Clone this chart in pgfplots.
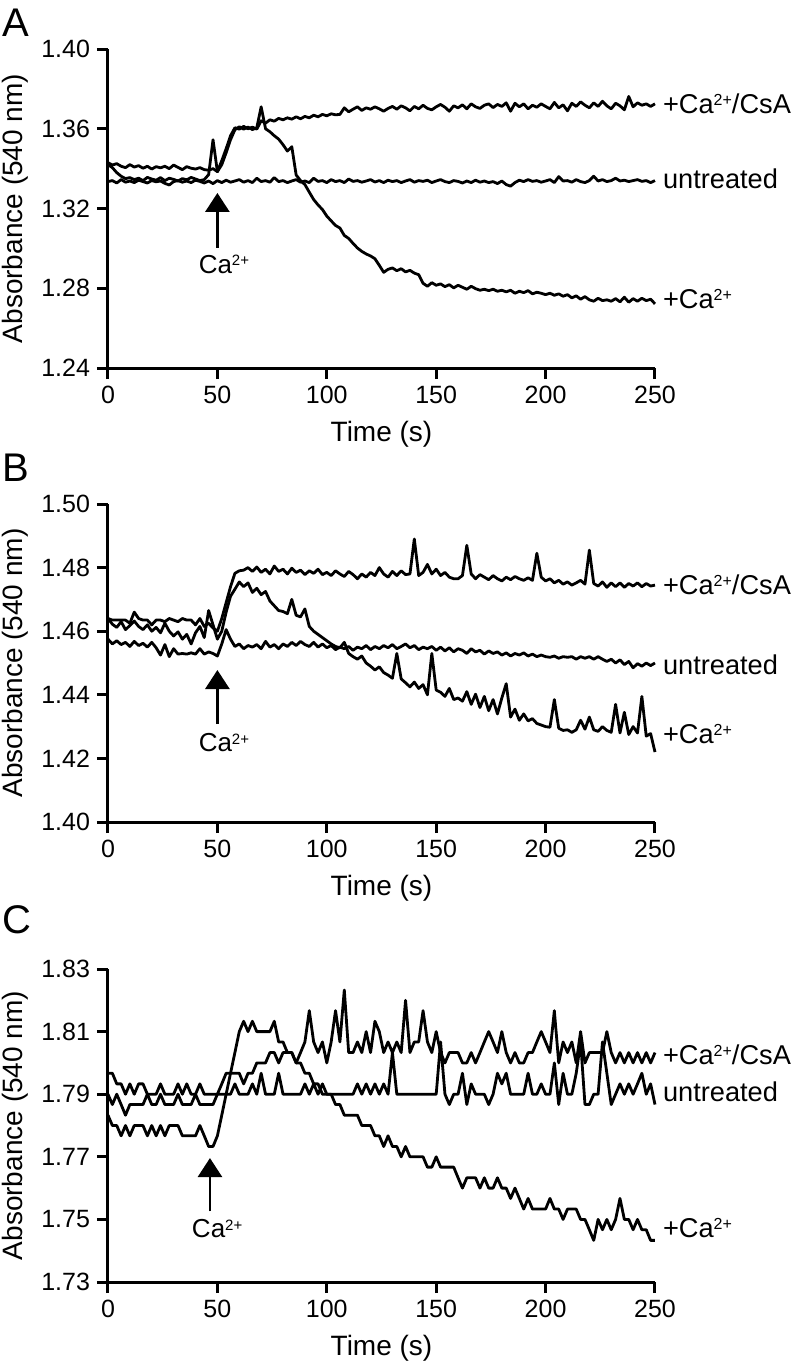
\documentclass[border=0pt]{standalone}
\usepackage{pgfplots}
\pgfplotsset{compat=1.18}
\usepackage{pgfplotstable}
\usepackage{fontspec}
\setmainfont{Liberation Sans}
\usetikzlibrary{arrows.meta}
\newcommand\supl[1]{\raisebox{4.1pt}{\fontsize{8}{8}\selectfont #1}}
\newcommand\sups[1]{\raisebox{3.8pt}{\fontsize{7.5}{8}\selectfont #1}}

\pgfplotstableread{
t csa unt ca
0 1.3430 1.3335 1.3420
2 1.3418 1.3340 1.3405
4 1.3425 1.3328 1.3380
6 1.3412 1.3345 1.3362
8 1.3405 1.3332 1.3350
10 1.3420 1.3338 1.3355
12 1.3408 1.3330 1.3345
14 1.3415 1.3342 1.3352
16 1.3402 1.3335 1.3340
18 1.3412 1.3328 1.3356
20 1.3398 1.3340 1.3348
22 1.3410 1.3334 1.3342
24 1.3404 1.3338 1.3355
26 1.3412 1.3326 1.3340
28 1.3400 1.3318 1.3352
30 1.3418 1.3335 1.3346
32 1.3406 1.3340 1.3338
34 1.3395 1.3332 1.3350
36 1.3410 1.3338 1.3344
38 1.3402 1.3330 1.3356
40 1.3398 1.3342 1.3348
42 1.3405 1.3336 1.3340
44 1.3395 1.3328 1.3345
46 1.3392 1.3338 1.3370
48 1.3400 1.3325 1.3545
50 1.3385 1.3340 1.3385
52 1.3440 1.3330 1.3420
54 1.3500 1.3342 1.3480
56 1.3565 1.3332 1.3545
58 1.3605 1.3338 1.3595
60 1.3598 1.3345 1.3610
62 1.3612 1.3332 1.3598
64 1.3600 1.3340 1.3608
66 1.3608 1.3330 1.3596
68 1.3598 1.3352 1.3605
70 1.3640 1.3335 1.3710
72 1.3628 1.3340 1.3600
74 1.3645 1.3332 1.3585
76 1.3638 1.3355 1.3565
78 1.3652 1.3335 1.3548
80 1.3645 1.3340 1.3520
82 1.3655 1.3330 1.3488
84 1.3648 1.3338 1.3510
86 1.3660 1.3345 1.3368
88 1.3650 1.3332 1.3340
90 1.3662 1.3338 1.3320
92 1.3655 1.3330 1.3282
94 1.3668 1.3352 1.3245
96 1.3660 1.3336 1.3218
98 1.3672 1.3340 1.3195
100 1.3665 1.3330 1.3162
102 1.3675 1.3345 1.3138
104 1.3670 1.3335 1.3115
106 1.3672 1.3340 1.3102
108 1.3705 1.3330 1.3065
110 1.3685 1.3348 1.3050
112 1.3698 1.3336 1.3025
114 1.3710 1.3340 1.3002
116 1.3692 1.3332 1.2985
118 1.3705 1.3338 1.2972
120 1.3698 1.3345 1.2962
122 1.3710 1.3333 1.2948
124 1.3700 1.3340 1.2915
126 1.3688 1.3330 1.2880
128 1.3702 1.3342 1.2895
130 1.3712 1.3335 1.2902
132 1.3698 1.3340 1.2888
134 1.3715 1.3330 1.2898
136 1.3705 1.3338 1.2882
138 1.3690 1.3345 1.2890
140 1.3712 1.3332 1.2876
142 1.3700 1.3340 1.2868
144 1.3718 1.3336 1.2825
146 1.3702 1.3342 1.2810
148 1.3695 1.3330 1.2828
150 1.3710 1.3338 1.2815
152 1.3722 1.3345 1.2822
154 1.3708 1.3335 1.2808
156 1.3688 1.3330 1.2818
158 1.3715 1.3340 1.2802
160 1.3705 1.3336 1.2815
162 1.3720 1.3328 1.2805
164 1.3700 1.3338 1.2795
166 1.3725 1.3330 1.2810
168 1.3710 1.3342 1.2798
170 1.3702 1.3332 1.2790
172 1.3718 1.3338 1.2795
174 1.3725 1.3330 1.2788
176 1.3706 1.3335 1.2795
178 1.3722 1.3325 1.2785
180 1.3712 1.3338 1.2790
182 1.3730 1.3320 1.2782
184 1.3688 1.3312 1.2790
186 1.3728 1.3330 1.2775
188 1.3710 1.3342 1.2785
190 1.3725 1.3335 1.2778
192 1.3700 1.3345 1.2788
194 1.3718 1.3336 1.2772
196 1.3708 1.3340 1.2780
198 1.3725 1.3332 1.2775
200 1.3712 1.3338 1.2768
202 1.3700 1.3345 1.2775
204 1.3732 1.3330 1.2765
206 1.3705 1.3360 1.2772
208 1.3720 1.3338 1.2760
210 1.3690 1.3340 1.2768
212 1.3728 1.3332 1.2752
214 1.3712 1.3345 1.2762
216 1.3735 1.3335 1.2745
218 1.3718 1.3330 1.2758
220 1.3705 1.3340 1.2742
222 1.3730 1.3362 1.2735
224 1.3712 1.3338 1.2750
226 1.3738 1.3345 1.2738
228 1.3715 1.3335 1.2742
230 1.3700 1.3340 1.2735
232 1.3728 1.3352 1.2748
234 1.3715 1.3338 1.2732
236 1.3695 1.3342 1.2755
238 1.3762 1.3335 1.2730
240 1.3710 1.3340 1.2748
242 1.3730 1.3345 1.2735
244 1.3718 1.3336 1.2750
246 1.3725 1.3340 1.2738
248 1.3712 1.3330 1.2745
250 1.3725 1.3340 1.2722
}\dataA

\pgfplotstableread{
t csa unt ca
0 1.4640 1.4575 1.4640
2 1.4635 1.4560 1.4622
4 1.4635 1.4570 1.4612
6 1.4635 1.4558 1.4630
8 1.4635 1.4565 1.4605
10 1.4625 1.4552 1.4618
12 1.4660 1.4568 1.4632
14 1.4640 1.4555 1.4615
16 1.4635 1.4562 1.4605
18 1.4635 1.4550 1.4620
20 1.4620 1.4565 1.4600
22 1.4635 1.4548 1.4612
24 1.4635 1.4525 1.4595
26 1.4630 1.4558 1.4625
28 1.4640 1.4520 1.4600
30 1.4635 1.4545 1.4585
32 1.4630 1.4528 1.4598
34 1.4640 1.4530 1.4575
36 1.4635 1.4528 1.4590
38 1.4635 1.4532 1.4560
40 1.4620 1.4528 1.4595
42 1.4640 1.4545 1.4615
44 1.4615 1.4528 1.4580
46 1.4625 1.4535 1.4665
48 1.4610 1.4530 1.4620
50 1.4600 1.4522 1.4575
52 1.4640 1.4560 1.4600
54 1.4690 1.4605 1.4660
56 1.4740 1.4575 1.4710
58 1.4782 1.4552 1.4732
60 1.4790 1.4560 1.4755
62 1.4792 1.4545 1.4740
64 1.4800 1.4555 1.4752
66 1.4788 1.4550 1.4722
68 1.4802 1.4558 1.4735
70 1.4785 1.4545 1.4715
72 1.4795 1.4568 1.4725
74 1.4780 1.4550 1.4695
76 1.4805 1.4558 1.4680
78 1.4788 1.4545 1.4665
80 1.4795 1.4560 1.4662
82 1.4780 1.4552 1.4655
84 1.4798 1.4565 1.4700
86 1.4785 1.4555 1.4650
88 1.4792 1.4568 1.4645
90 1.4778 1.4558 1.4670
92 1.4790 1.4552 1.4615
94 1.4782 1.4565 1.4600
96 1.4795 1.4550 1.4590
98 1.4778 1.4560 1.4580
100 1.4785 1.4548 1.4570
102 1.4775 1.4555 1.4560
104 1.4790 1.4542 1.4552
106 1.4780 1.4550 1.4548
108 1.4772 1.4545 1.4565
110 1.4788 1.4552 1.4530
112 1.4778 1.4540 1.4520
114 1.4765 1.4550 1.4512
116 1.4780 1.4545 1.4522
118 1.4770 1.4555 1.4500
120 1.4785 1.4542 1.4490
122 1.4775 1.4552 1.4478
124 1.4800 1.4545 1.4488
126 1.4780 1.4555 1.4470
128 1.4770 1.4548 1.4462
130 1.4788 1.4558 1.4452
132 1.4775 1.4545 1.4530
134 1.4790 1.4552 1.4450
136 1.4778 1.4560 1.4438
138 1.4780 1.4548 1.4425
140 1.4890 1.4555 1.4440
142 1.4775 1.4542 1.4420
144 1.4785 1.4550 1.4432
146 1.4810 1.4545 1.4400
148 1.4780 1.4552 1.4530
150 1.4795 1.4540 1.4415
152 1.4775 1.4550 1.4408
154 1.4785 1.4538 1.4395
156 1.4770 1.4548 1.4420
158 1.4765 1.4535 1.4385
160 1.4765 1.4545 1.4390
162 1.4775 1.4540 1.4380
164 1.4870 1.4530 1.4410
166 1.4780 1.4545 1.4370
168 1.4765 1.4535 1.4402
170 1.4778 1.4540 1.4360
172 1.4770 1.4528 1.4395
174 1.4762 1.4538 1.4350
176 1.4775 1.4530 1.4385
178 1.4765 1.4535 1.4340
180 1.4758 1.4525 1.4390
182 1.4770 1.4532 1.4435
184 1.4762 1.4522 1.4330
186 1.4772 1.4530 1.4355
188 1.4765 1.4525 1.4320
190 1.4760 1.4532 1.4340
192 1.4768 1.4522 1.4318
194 1.4760 1.4528 1.4325
196 1.4845 1.4520 1.4310
198 1.4770 1.4525 1.4305
200 1.4758 1.4520 1.4300
202 1.4765 1.4518 1.4298
204 1.4752 1.4522 1.4385
206 1.4760 1.4515 1.4295
208 1.4748 1.4520 1.4288
210 1.4755 1.4518 1.4290
212 1.4745 1.4520 1.4282
214 1.4752 1.4512 1.4290
216 1.4760 1.4520 1.4320
218 1.4748 1.4515 1.4292
220 1.4855 1.4520 1.4330
222 1.4750 1.4512 1.4290
224 1.4742 1.4520 1.4285
226 1.4755 1.4512 1.4300
228 1.4738 1.4505 1.4288
230 1.4752 1.4512 1.4282
232 1.4740 1.4500 1.4370
234 1.4752 1.4510 1.4280
236 1.4738 1.4495 1.4345
238 1.4750 1.4505 1.4275
240 1.4742 1.4485 1.4300
242 1.4752 1.4498 1.4280
244 1.4740 1.4490 1.4395
246 1.4750 1.4500 1.4270
248 1.4742 1.4492 1.4278
250 1.4745 1.4500 1.4220
}\dataB

\pgfplotstableread{
t csa unt ca
0 1.7900 1.7967 1.7833
2 1.7867 1.7967 1.7800
4 1.7900 1.7933 1.7800
6 1.7867 1.7933 1.7767
8 1.7833 1.7900 1.7800
10 1.7867 1.7933 1.7767
12 1.7867 1.7900 1.7800
14 1.7867 1.7933 1.7800
16 1.7867 1.7933 1.7800
18 1.7900 1.7900 1.7767
20 1.7867 1.7900 1.7800
22 1.7867 1.7900 1.7767
24 1.7900 1.7933 1.7800
26 1.7867 1.7900 1.7767
28 1.7867 1.7900 1.7800
30 1.7867 1.7900 1.7800
32 1.7900 1.7933 1.7800
34 1.7867 1.7900 1.7767
36 1.7867 1.7933 1.7767
38 1.7867 1.7900 1.7767
40 1.7900 1.7900 1.7767
42 1.7867 1.7933 1.7800
44 1.7867 1.7900 1.7767
46 1.7867 1.7900 1.7733
48 1.7867 1.7900 1.7733
50 1.7900 1.7900 1.7767
52 1.7933 1.7900 1.7833
54 1.7967 1.7900 1.7900
56 1.7967 1.7900 1.7967
58 1.7967 1.7933 1.8033
60 1.7967 1.7900 1.8100
62 1.7933 1.7900 1.8133
64 1.7967 1.7900 1.8100
66 1.7967 1.7933 1.8133
68 1.8000 1.7900 1.8100
70 1.8000 1.7967 1.8100
72 1.8000 1.7900 1.8100
74 1.8033 1.7900 1.8100
76 1.8033 1.7900 1.8133
78 1.8000 1.7967 1.8067
80 1.8033 1.7900 1.8067
82 1.8033 1.7900 1.8033
84 1.8033 1.7900 1.8033
86 1.8000 1.7900 1.8000
88 1.8033 1.7900 1.8000
90 1.8067 1.7933 1.7967
92 1.8167 1.7900 1.7967
94 1.8067 1.7933 1.7933
96 1.8033 1.7900 1.7933
98 1.8067 1.7933 1.7900
100 1.8000 1.7900 1.7900
102 1.8067 1.7900 1.7900
104 1.8167 1.7900 1.7867
106 1.8067 1.7900 1.7867
108 1.8233 1.7900 1.7833
110 1.8033 1.7900 1.7833
112 1.8033 1.7900 1.7833
114 1.8067 1.7933 1.7833
116 1.8033 1.7900 1.7800
118 1.8100 1.7933 1.7800
120 1.8033 1.7900 1.7800
122 1.8133 1.7933 1.7767
124 1.8100 1.7900 1.7767
126 1.8033 1.7933 1.7733
128 1.8067 1.7900 1.7767
130 1.8033 1.8033 1.7733
132 1.8067 1.7900 1.7733
134 1.8033 1.7900 1.7700
136 1.8200 1.7900 1.7733
138 1.8033 1.7900 1.7700
140 1.8067 1.7900 1.7700
142 1.8067 1.7900 1.7700
144 1.8167 1.7900 1.7700
146 1.8067 1.7900 1.7667
148 1.8033 1.7900 1.7667
150 1.8100 1.7900 1.7700
152 1.8033 1.8067 1.7667
154 1.8000 1.7900 1.7667
156 1.8033 1.7867 1.7667
158 1.8033 1.7900 1.7667
160 1.8033 1.7900 1.7633
162 1.8000 1.7967 1.7600
164 1.8000 1.7867 1.7633
166 1.8033 1.7933 1.7633
168 1.8000 1.7900 1.7633
170 1.8033 1.7900 1.7600
172 1.8067 1.7900 1.7633
174 1.8100 1.7867 1.7600
176 1.8067 1.7900 1.7600
178 1.8033 1.7967 1.7633
180 1.8100 1.7933 1.7600
182 1.8033 1.7967 1.7600
184 1.8000 1.7900 1.7567
186 1.8033 1.7900 1.7600
188 1.8000 1.7900 1.7567
190 1.8000 1.7900 1.7533
192 1.8033 1.7967 1.7567
194 1.8033 1.7900 1.7533
196 1.8067 1.7900 1.7533
198 1.8100 1.7933 1.7533
200 1.8067 1.7900 1.7533
202 1.8033 1.7900 1.7567
204 1.8167 1.8000 1.7533
206 1.8000 1.7867 1.7533
208 1.8067 1.7967 1.7500
210 1.8033 1.7900 1.7533
212 1.8067 1.7900 1.7533
214 1.8000 1.7967 1.7533
216 1.8100 1.8067 1.7500
218 1.8000 1.7867 1.7500
220 1.8033 1.7867 1.7467
222 1.8033 1.7900 1.7433
224 1.8033 1.7900 1.7500
226 1.8033 1.8067 1.7467
228 1.8100 1.7967 1.7500
230 1.8033 1.7867 1.7467
232 1.8000 1.7900 1.7500
234 1.8033 1.7933 1.7567
236 1.8000 1.7900 1.7500
238 1.8033 1.7933 1.7500
240 1.8000 1.7900 1.7467
242 1.8033 1.7933 1.7500
244 1.8000 1.7967 1.7467
246 1.8033 1.7900 1.7467
248 1.8000 1.7933 1.7433
250 1.8033 1.7867 1.7433
}\dataC

\pgfplotsset{
  panel/.style={
    scale only axis, width=273.5pt,
    xmin=0, xmax=250, xtick={0,50,100,150,200,250},
    axis lines*=left,
    axis line style={line width=1.5pt, black},
    tick style={line width=1.5pt, black},
    tick align=outside, major tick length=5.5pt,
    minor tick num=0, clip=false,
    /pgf/number format/assume math mode=true,
    ticklabel style={font=\fontsize{12.5}{15}\selectfont},
    yticklabel style={/pgf/number format/fixed, /pgf/number format/fixed zerofill, /pgf/number format/precision=2},
    label style={font=\fontsize{14}{16}\selectfont},
    xlabel={Time (s)}, ylabel={Absorbance (540 nm)},
    xlabel style={at={(axis description cs:0.5,0)}, anchor=center, yshift=-33pt},
    ylabel style={at={(axis description cs:-0.170,0.5)}, anchor=center},
    cycle list={{black, line width=1.4pt, line join=round}},
    every axis plot post/.append style={black, no marks, line width=1.4pt, line join=round},
  },
}
\tikzset{
  lab/.style={font=\fontsize{13.6}{16}\selectfont, inner sep=0pt, anchor=base west},
  clab/.style={font=\fontsize{13}{15}\selectfont, inner sep=0pt, anchor=base west},
  letter/.style={font=\fontsize{20}{24}\selectfont, inner sep=0pt, anchor=base west},
  caarrow/.style={line width=1.4pt, -{Triangle[width=12pt,length=9.5pt]}},
}

\begin{document}
\begin{tikzpicture}
\path[use as bounding box] (-54pt,0pt) rectangle (342.5pt,-686pt);

% Panel A
\begin{axis}[panel, at={(0pt,-184pt)}, anchor=south west, height=159.5pt,
  ymin=1.24, ymax=1.40, ytick={1.24,1.28,1.32,1.36,1.40}]
\addplot table[x=t,y=csa]{\dataA};
\addplot table[x=t,y=unt]{\dataA};
\addplot table[x=t,y=ca]{\dataA};
\draw[caarrow] (axis cs:50,1.3002) -- (axis cs:50,1.3278);
\node[clab] at (axis cs:41.3,1.2875) {Ca\sups{2+}};
\node[lab] at (axis cs:253.5,1.3677) {+Ca\supl{2+}/CsA};
\node[lab] at (axis cs:253.5,1.3301) {untreated};
\node[lab] at (axis cs:253.5,1.2699) {+Ca\supl{2+}};
\node[letter] at (axis description cs:-0.193,1.039) {A};
\end{axis}

% Panel B
\begin{axis}[panel, at={(0pt,-411pt)}, anchor=south west, height=159pt,
  ymin=1.40, ymax=1.50, ytick={1.40,1.42,1.44,1.46,1.48,1.50}]
\addplot table[x=t,y=csa]{\dataB};
\addplot table[x=t,y=unt]{\dataB};
\addplot table[x=t,y=ca]{\dataB};
\draw[caarrow] (axis cs:50,1.4308) -- (axis cs:50,1.4478);
\node[clab] at (axis cs:41.3,1.4221) {Ca\sups{2+}};
\node[lab] at (axis cs:253.5,1.4714) {+Ca\supl{2+}/CsA};
\node[lab] at (axis cs:253.5,1.4464) {untreated};
\node[lab] at (axis cs:253.5,1.4247) {+Ca\supl{2+}};
\node[letter] at (axis description cs:-0.193,1.070) {B};
\end{axis}

% Panel C
\begin{axis}[panel, at={(0pt,-641pt)}, anchor=south west, height=156.5pt,
  ymin=1.73, ymax=1.83, ytick={1.73,1.75,1.77,1.79,1.81,1.83}]
\addplot table[x=t,y=csa]{\dataC};
\addplot table[x=t,y=unt]{\dataC};
\addplot table[x=t,y=ca]{\dataC};
\draw[caarrow] (axis cs:46.6,1.7526) -- (axis cs:46.6,1.7696);
\node[clab] at (axis cs:38.2,1.7441) {Ca\sups{2+}};
\node[lab] at (axis cs:253.5,1.7994) {+Ca\supl{2+}/CsA};
\node[lab] at (axis cs:253.5,1.7877) {untreated};
\node[lab] at (axis cs:253.5,1.7441) {+Ca\supl{2+}};
\node[letter] at (axis description cs:-0.193,1.112) {C};
\end{axis}
\end{tikzpicture}
\end{document}
